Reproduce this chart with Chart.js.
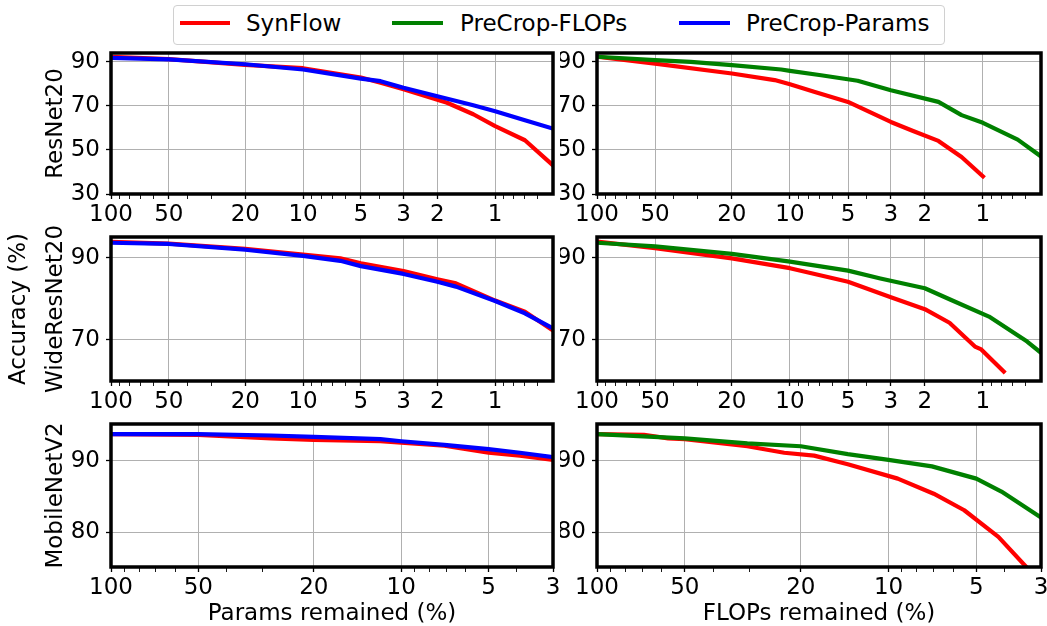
<!DOCTYPE html>
<html>
<head>
<meta charset="utf-8">
<script src="https://cdn.jsdelivr.net/npm/chart.js@4/dist/chart.umd.min.js"></script>
<style>
  body { margin: 0; width: 1047px; height: 626px; background: #fff; position: relative; overflow: hidden; font-family: "DejaVu Sans", sans-serif; }
  canvas { position: absolute; }
  #legend { position: absolute; left: 173px; top: 5px; width: 770px; height: 38px; border: 1px solid #d0d0d0; border-radius: 4px; background: #fff; }
  #legend .swatch { position: absolute; top: 15px; height: 4px; }
  #legend .label { position: absolute; top: 0; line-height: 35px; font-size: 23px; color: #000; white-space: nowrap; }
</style>
</head>
<body>
<div id="legend">
  <span class="swatch" style="left:6px;width:50px;background:#ff0000"></span>
  <span class="label" style="left:72px">SynFlow</span>
  <span class="swatch" style="left:218px;width:51px;background:#008000"></span>
  <span class="label" style="left:286px">PreCrop-FLOPs</span>
  <span class="swatch" style="left:505px;width:51px;background:#0000ff"></span>
  <span class="label" style="left:572px">PreCrop-Params</span>
</div>
<script>
// Tick values
const xMajorWide = [100, 50, 20, 10, 5, 3, 2, 1];
const xMinorWide = [90, 80, 70, 60, 40, 30, 9, 8, 7, 6, 4, 0.9, 0.8, 0.7, 0.6];
const xMajorNarrow = [100, 50, 20, 10, 5, 3];
const xMinorNarrow = [90, 80, 70, 60, 40, 30, 9, 8, 7, 6, 4];
const resnetYTicks = [30, 50, 70, 90];
const wideYTicks = [70, 90];
const mobileYTicks = [80, 90];

// ResNet20 - params remained
const resParamsSynflowX = [100, 50, 20, 10, 5, 3.95, 3, 1.78, 1.3, 1, 0.7, 0.5];
const resParamsSynflowY = [92.3, 91.2, 88.6, 87.1, 82.9, 80.5, 77.6, 71.4, 66.2, 60.8, 54.4, 43.0];
const resParamsPrecropX = [100, 50, 20, 10, 5, 3.95, 3, 2, 1.3, 1, 0.7, 0.5];
const resParamsPrecropY = [91.8, 91.1, 88.9, 86.5, 82.4, 81.2, 78.2, 74.4, 70.3, 67.6, 63.5, 59.7];

// ResNet20 - FLOPs remained
const resFlopsSynflowX = [100, 50, 20, 12, 10, 7.5, 5, 3, 2.3, 1.7, 1.29, 1.0];
const resFlopsSynflowY = [92.3, 89.2, 84.7, 81.7, 79.8, 76.4, 71.8, 62.7, 58.6, 54.1, 46.8, 38.0];
const resFlopsPrecropX = [100, 50, 32.7, 20, 11.1, 10, 6.9, 4.46, 3.0, 1.7, 1.29, 1.0, 0.66, 0.51];
const resFlopsPrecropY = [92.3, 90.8, 90.0, 88.5, 86.5, 85.9, 83.9, 81.4, 77.1, 71.8, 65.8, 62.3, 54.7, 47.6];

// WideResNet20 - params remained
const wideParamsX = [100, 50, 20, 10, 6.4, 5, 3, 2, 1.6, 1, 0.7, 0.5];
const wideParamsSynflowY = [93.9, 93.5, 92.2, 90.8, 89.9, 88.7, 86.8, 84.8, 83.8, 79.6, 76.9, 72.3];
const wideParamsPrecropY = [93.7, 93.4, 92.0, 90.5, 89.3, 88.0, 86.1, 84.2, 83.0, 79.5, 76.5, 72.8];

// WideResNet20 - FLOPs remained
const wideFlopsSynflowX = [100, 50, 20, 10, 5, 3.0, 2.0, 1.49, 1.1, 1.02, 0.78];
const wideFlopsSynflowY = [94.0, 92.4, 89.9, 87.5, 84.2, 80.4, 77.5, 74.2, 68.4, 67.7, 62.3];
const wideFlopsPrecropX = [100, 50, 20, 10, 5, 3.4, 2.0, 1.47, 0.93, 0.59, 0.51];
const wideFlopsPrecropY = [93.7, 92.8, 91.0, 89.1, 86.9, 85.0, 82.6, 79.8, 75.7, 69.6, 67.2];

// MobileNetV2 - params remained
const mobileParamsX = [100, 50, 28, 20, 11.8, 10, 7.1, 5, 3.9, 3];
const mobileParamsSynflowY = [93.7, 93.6, 93.1, 92.9, 92.7, 92.5, 92.1, 91.1, 90.7, 90.1];
const mobileParamsPrecropY = [93.7, 93.7, 93.5, 93.3, 93.0, 92.7, 92.2, 91.6, 91.1, 90.5];

// MobileNetV2 - FLOPs remained
const mobileFlopsSynflowX = [100, 69, 57, 50, 30.5, 22.8, 18, 13.8, 9.3, 7.0, 5.5, 4.2, 3.37, 3.3];
const mobileFlopsSynflowY = [93.7, 93.6, 93.1, 93.0, 92.0, 91.1, 90.7, 89.5, 87.5, 85.4, 83.1, 79.4, 75.2, 74.6];
const mobileFlopsPrecropX = [100, 50, 30.5, 20, 13.8, 10, 7.1, 5, 4.1, 3];
const mobileFlopsPrecropY = [93.7, 93.1, 92.4, 92.0, 90.9, 90.1, 89.2, 87.5, 85.7, 82.1];

// Layout
const FONT = { family: 'DejaVu Sans', size: 23 };
const GRID_GRAY = '#b0b0b0';
const COLORS = { synflow: '#ff0000', flops: '#008000', params: '#0000ff' };
const LABELS = { synflow: 'SynFlow', flops: 'PreCrop-FLOPs', params: 'PreCrop-Params' };

const columns = {
    params: { left: 0, width: 560, axisWidth: 111, padRight: 7 },
    flops: { left: 560, width: 487, axisWidth: 37, padRight: 6 }
};
// row 2 canvas starts higher so its long side title is not cut off
const rows = [
    { top: 45, padTop: 8, plotHeight: 141, axisHeight: 36 },
    { top: 205, padTop: 32, plotHeight: 144, axisHeight: 36 },
    { top: 417, padTop: 7, plotHeight: 143, axisHeight: 59 }
];

Chart.defaults.font.family = FONT.family;
Chart.defaults.font.size = FONT.size;
Chart.defaults.color = '#000';

// Black frame round the plot area
const framePlugin = {
    id: 'frame',
    afterDraw(chart) {
        const { ctx, chartArea: a } = chart;
        ctx.save();
        ctx.strokeStyle = '#000';
        ctx.lineWidth = 3.5;
        ctx.strokeRect(a.left, a.top, a.right - a.left, a.bottom - a.top);
        ctx.restore();
    }
};

// Rotated row titles (drawn by hand so long names are not squeezed)
const sideTitlePlugin = {
    id: 'sideTitles',
    afterDraw(chart, args, opts) {
        if (!opts.items) return;
        const { ctx, chartArea: a } = chart;
        const cy = (a.top + a.bottom) / 2;
        ctx.save();
        ctx.fillStyle = '#000';
        ctx.font = FONT.size + 'px "' + FONT.family + '"';
        ctx.textAlign = 'center';
        ctx.textBaseline = 'middle';
        opts.items.forEach(item => {
            ctx.save();
            ctx.translate(item.x, cy);
            ctx.rotate(-Math.PI / 2);
            ctx.fillText(item.text, 0, 0);
            ctx.restore();
        });
        ctx.restore();
    }
};

function toPoints(xs, ys) {
    return xs.map((x, i) => ({ x: x, y: ys[i] }));
}

function tickList(major, minor) {
    return major.map(v => ({ value: v, minor: false }))
        .concat(minor.map(v => ({ value: v, minor: true })));
}

const panels = [
    { col: 'params', row: 0, xMin: 0.5, yMin: 30, yMax: 94, yTicks: resnetYTicks,
      sideTitles: [{ text: 'ResNet20', x: 56 }],
      lines: [['synflow', resParamsSynflowX, resParamsSynflowY], ['params', resParamsPrecropX, resParamsPrecropY]] },
    { col: 'flops', row: 0, xMin: 0.5, yMin: 30, yMax: 94, yTicks: resnetYTicks,
      lines: [['synflow', resFlopsSynflowX, resFlopsSynflowY], ['flops', resFlopsPrecropX, resFlopsPrecropY]] },
    { col: 'params', row: 1, xMin: 0.5, yMin: 60, yMax: 95.1, yTicks: wideYTicks,
      sideTitles: [{ text: 'Accuracy (%)', x: 19.5 }, { text: 'WideResNet20', x: 56 }],
      lines: [['synflow', wideParamsX, wideParamsSynflowY], ['params', wideParamsX, wideParamsPrecropY]] },
    { col: 'flops', row: 1, xMin: 0.5, yMin: 60, yMax: 95.1, yTicks: wideYTicks,
      lines: [['synflow', wideFlopsSynflowX, wideFlopsSynflowY], ['flops', wideFlopsPrecropX, wideFlopsPrecropY]] },
    { col: 'params', row: 2, xMin: 3, yMin: 75.2, yMax: 95.1, yTicks: mobileYTicks,
      sideTitles: [{ text: 'MobileNetV2', x: 56 }],
      xTitle: 'Params remained (%)',
      lines: [['synflow', mobileParamsX, mobileParamsSynflowY], ['params', mobileParamsX, mobileParamsPrecropY]] },
    { col: 'flops', row: 2, xMin: 3, yMin: 75.2, yMax: 95.1, yTicks: mobileYTicks,
      xTitle: 'FLOPs remained (%)',
      lines: [['synflow', mobileFlopsSynflowX, mobileFlopsSynflowY], ['flops', mobileFlopsPrecropX, mobileFlopsPrecropY]] }
];

function makePanel(p) {
    const col = columns[p.col];
    const row = rows[p.row];
    const canvas = document.createElement('canvas');
    canvas.width = col.width;
    canvas.height = row.padTop + row.plotHeight + row.axisHeight;
    canvas.style.left = col.left + 'px';
    canvas.style.top = row.top + 'px';
    document.body.appendChild(canvas);

    const wide = p.xMin < 1;
    const major = wide ? xMajorWide : xMajorNarrow;
    const minor = wide ? xMinorWide : xMinorNarrow;

    const xTitle = p.xTitle ? {
        display: true,
        text: p.xTitle,
        color: '#000',
        font: { family: FONT.family, size: FONT.size, lineHeight: 1 },
        padding: { top: 0, bottom: 0 }
    } : { display: false };

    return new Chart(canvas, {
        type: 'line',
        data: {
            datasets: p.lines.map(([key, xs, ys]) => ({
                label: LABELS[key],
                data: toPoints(xs, ys),
                borderColor: COLORS[key],
                backgroundColor: COLORS[key],
                borderWidth: 4.2,
                borderJoinStyle: 'round',
                borderCapStyle: 'square',
                pointRadius: 0,
                tension: 0,
                fill: false,
                clip: 0,
                order: key === 'synflow' ? 2 : 1
            }))
        },
        options: {
            responsive: false,
            animation: false,
            events: [],
            layout: { padding: { left: 0, right: col.padRight, top: row.padTop, bottom: 0 } },
            plugins: {
                legend: { display: false },
                tooltip: { enabled: false },
                sideTitles: { items: p.sideTitles || null }
            },
            scales: {
                x: {
                    type: 'logarithmic',
                    reverse: true,
                    bounds: 'data',
                    min: p.xMin,
                    max: 100,
                    afterBuildTicks: s => { s.ticks = tickList(major, minor); },
                    afterFit: s => { s.height = row.axisHeight; s.paddingLeft = 0; s.paddingRight = 0; },
                    ticks: {
                        autoSkip: false,
                        maxRotation: 0,
                        minRotation: 0,
                        padding: 2,
                        font: FONT,
                        color: '#000',
                        callback: v => major.includes(v) ? String(v) : ''
                    },
                    grid: {
                        color: c => (c.tick && c.tick.minor) ? 'rgba(0,0,0,0)' : GRID_GRAY,
                        lineWidth: 1,
                        tickLength: 5,
                        tickColor: '#000',
                        tickWidth: c => (c.tick && c.tick.minor) ? 0.9 : 1.3
                    },
                    border: { display: false },
                    title: xTitle
                },
                y: {
                    type: 'linear',
                    bounds: 'data',
                    min: p.yMin,
                    max: p.yMax,
                    afterBuildTicks: s => { s.ticks = p.yTicks.map(v => ({ value: v })); },
                    afterFit: s => { s.width = col.axisWidth; s.paddingTop = 0; s.paddingBottom = 0; },
                    ticks: { padding: 6, font: FONT, color: '#000', callback: v => String(v) },
                    grid: { color: GRID_GRAY, lineWidth: 1, tickLength: 5, tickColor: '#000', tickWidth: 1.3 },
                    border: { display: false },
                    title: { display: false }
                }
            }
        },
        plugins: [framePlugin, sideTitlePlugin]
    });
}

panels.forEach(makePanel);
</script>
</body>
</html>
